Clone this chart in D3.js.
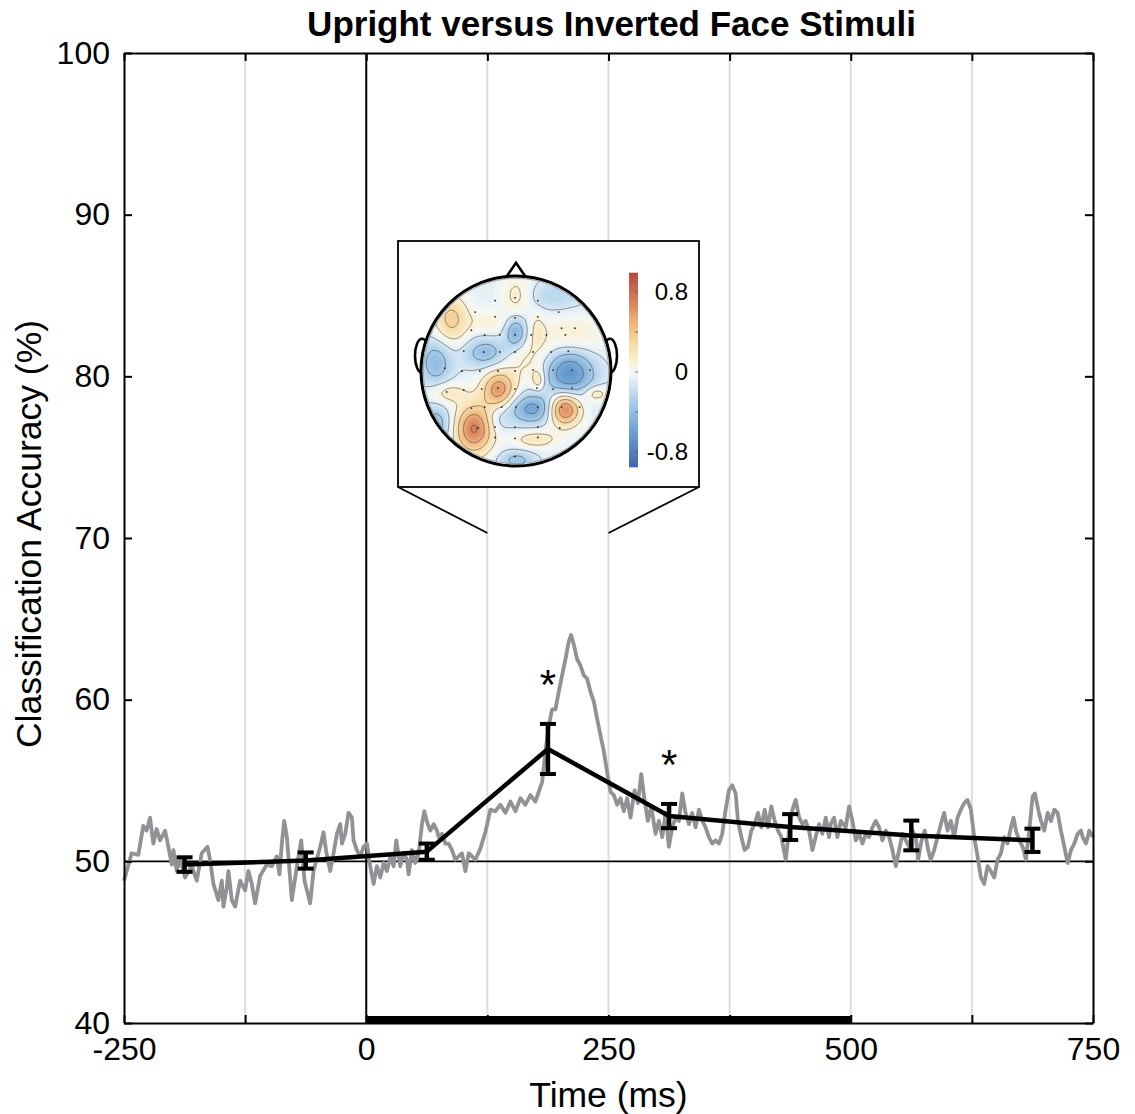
<!DOCTYPE html>
<html>
<head>
<meta charset="utf-8">
<script src="https://cdn.jsdelivr.net/npm/d3@7"></script>
<style>
body { margin: 0; background: #fff; }
text { font-family: "Liberation Sans", Arial, Helvetica, sans-serif; fill: #000; }
</style>
</head>
<body>
<svg id="chart" width="1135" height="1114"></svg>
<script>
// time-resolved classification accuracy (ms, %)
var decodingTrace = [
  [-250,48.8],[-247.2,49.4],[-242.1,50.5],[-235.2,50.4],[-230.1,52.2],[-226.6,51.9],[-223.1,52.7],[-219.7,51.1],
  [-216.3,52.0],[-212.8,51.3],[-207.6,51.9],[-204.2,50.9],[-200.7,49.8],[-199.0,50.7],[-195.6,49.4],[-192.1,50.2],
  [-187.0,49.0],[-180.1,49.7],[-174.9,48.8],[-169.8,50.5],[-163.9,50.9],[-161.2,50.1],[-157.7,48.6],[-152.6,47.6],
  [-149.1,48.8],[-147.4,47.2],[-143.9,48.4],[-142.2,49.4],[-138.8,47.6],[-135.3,47.2],[-130.2,48.8],[-125.0,48.2],
  [-121.6,49.4],[-118.1,48.6],[-114.7,47.4],[-109.5,49.1],[-102.6,49.8],[-97.4,49.7],[-92.3,50.3],[-89.6,49.2],
  [-87.1,51.1],[-84.7,52.5],[-81.9,51.5],[-76.8,47.6],[-71.6,49.7],[-67.1,51.3],[-63.7,48.8],[-57.9,47.4],
  [-54.4,49.4],[-47.5,50.9],[-44.1,51.8],[-41.3,50.6],[-37.2,49.4],[-33.7,50.5],[-30.3,51.7],[-26.9,52.3],
  [-25.1,51.1],[-21.7,51.7],[-18.3,53.0],[-14.8,52.7],[-13.1,51.3],[-9.7,50.7],[-6.2,50.3],[-2.8,50.9],
  [0.7,51.1],[4.1,49.7],[7.6,48.6],[11.0,49.7],[14.5,49.0],[17.9,49.9],[21.3,49.4],[24.8,50.3],
  [28.2,49.7],[31.0,51.3],[35.1,49.7],[38.6,50.5],[42.0,50.1],[43.7,49.2],[47.2,50.7],[50.6,49.9],
  [54.1,50.5],[57.5,52.3],[59.9,53.1],[63.4,52.3],[66.1,51.9],[69.6,52.3],[73.0,51.9],[74.7,51.5],
  [78.2,51.7],[81.6,51.1],[85.0,51.1],[88.5,50.7],[91.9,50.1],[95.4,50.3],[98.8,50.5],[102.3,49.4],
  [105.7,50.5],[109.2,50.3],[112.6,50.1],[117.8,50.8],[122.9,51.8],[128.1,53.2],[133.3,53.1],[138.4,53.5],
  [143.6,53.0],[148.8,53.7],[153.9,53.1],[159.1,53.9],[164.3,53.5],[169.4,54.1],[174.6,53.7],[178.0,54.3],
  [181.5,54.9],[184.9,56.8],[188.4,58.4],[191.8,59.4],[195.2,59.4],[198.7,60.5],[202.1,61.5],[205.6,62.5],
  [209.0,63.6],[211.4,64.0],[214.2,63.4],[217.6,62.5],[221.1,62.1],[224.5,61.5],[227.9,61.3],[231.4,60.5],
  [234.8,59.9],[238.3,58.8],[241.7,57.8],[245.2,56.8],[248.6,55.5],[252.1,54.3],[255.5,54.1],[259.0,53.5],
  [262.4,53.9],[265.8,53.1],[269.3,53.9],[272.7,52.7],[276.9,54.4],[280.3,53.6],[283.8,55.4],[287.2,53.8],
  [290.6,52.5],[294.1,53.4],[298.6,51.7],[302.0,52.5],[305.5,51.5],[308.9,53.0],[312.3,50.9],[315.8,52.1],
  [319.2,52.7],[322.7,52.5],[326.1,54.2],[329.5,53.0],[333.0,52.3],[336.4,53.0],[339.9,52.1],[343.3,53.2],
  [346.8,52.5],[350.2,52.1],[353.6,51.5],[357.1,51.1],[360.5,51.3],[364.0,51.1],[367.4,51.7],[370.9,53.2],
  [374.3,54.4],[377.8,54.7],[381.2,54.2],[383.6,52.5],[387.1,51.5],[390.5,50.7],[393.9,50.9],[397.4,51.9],
  [400.8,52.3],[404.3,53.0],[407.7,52.1],[411.2,53.2],[414.6,52.1],[418.0,53.4],[421.5,52.5],[424.9,51.9],
  [428.4,51.5],[432.9,50.1],[436.3,51.9],[439.8,53.2],[443.2,53.8],[446.7,52.7],[450.1,52.3],[453.5,52.5],
  [457.0,51.9],[460.4,50.7],[463.8,51.5],[467.3,52.3],[470.7,51.7],[474.2,52.7],[477.6,51.5],[479.3,52.3],
  [482.8,52.7],[486.2,51.5],[489.7,52.5],[494.8,52.1],[498.3,53.4],[501.7,52.5],[505.2,51.3],[508.6,51.7],
  [512.1,51.1],[515.5,51.7],[518.9,51.5],[522.4,52.1],[525.8,52.5],[529.3,52.1],[532.7,51.3],[536.2,51.9],
  [539.6,51.5],[543.0,50.7],[546.5,49.7],[549.9,50.7],[553.4,51.7],[556.8,51.3],[560.2,50.9],[563.7,51.9],
  [567.1,51.5],[569.5,50.1],[573.0,51.3],[576.4,51.9],[579.9,50.7],[582.6,50.1],[586.1,50.7],[589.6,51.5],
  [593.0,52.3],[596.4,53.0],[599.9,51.9],[603.3,52.5],[606.7,51.5],[610.2,52.7],[613.6,53.2],[617.1,53.6],
  [620.5,53.8],[624.0,53.2],[627.4,51.5],[630.9,50.3],[634.3,49.0],[637.7,48.6],[641.2,49.7],[644.6,49.4],
  [648.1,49.0],[651.5,50.1],[655.0,50.5],[658.4,51.5],[661.8,51.1],[665.3,52.1],[668.0,52.7],[670.5,51.9],
  [673.9,51.3],[677.4,50.9],[680.8,50.1],[684.2,51.9],[687.7,54.0],[690.1,54.2],[693.5,53.2],[696.3,52.5],
  [699.7,51.9],[703.2,53.0],[706.6,52.5],[710.1,53.2],[713.5,53.0],[716.9,51.9],[720.4,50.9],[723.8,49.9],
  [727.3,50.7],[730.7,51.1],[734.1,51.7],[737.6,51.9],[739.3,51.5],[742.8,51.1],[746.2,51.9],[750,51.5]
];

// 125 ms bins : centre, mean accuracy, s.e.m.
var binMs  = [-187.5, -62.5, 62.5, 187.5, 312.5, 437.5, 562.5, 687.5];
var binAcc = [49.8, 50.05, 50.6, 56.95, 52.8, 52.12, 51.6, 51.3];
var binSem = [0.45, 0.5, 0.5, 1.55, 0.75, 0.8, 0.92, 0.72];
var sigBins = [3, 4];           // bins marked with *
var stimWindow = [0, 500];      // stimulus on screen
var zoomWindow = [125, 250];    // window shown in the topography

var xTicks = [-250, -125, 0, 125, 250, 375, 500, 625, 750];
var xLabels = [-250, 0, 250, 500, 750];
var yTicks = [40, 50, 60, 70, 80, 90, 100];

// topography : gaussian patches [x, y, amplitude, sx, sy] in head radius units
var topoBase = -0.06;
var topoPatches = [
  [-0.45, 0.60, 0.78, 0.14, 0.18],
  [0.50, 0.39, 0.88, 0.12, 0.12],
  [-0.19, 0.19, 0.66, 0.12, 0.14],
  [0.55, 0.01, -0.62, 0.19, 0.19],
  [0.17, 0.39, -0.50, 0.19, 0.11],
  [-0.01, -0.41, -0.45, 0.08, 0.12],
  [-0.33, -0.20, -0.35, 0.16, 0.11],
  [-0.85, -0.10, -0.35, 0.12, 0.18],
  [-0.69, -0.55, 0.42, 0.13, 0.18],
  [0.0, -0.80, 0.22, 0.11, 0.16],
  [0.58, -0.36, 0.22, 0.25, 0.16],
  [0.12, -0.12, 0.20, 0.17, 0.17],
  [0.23, 0.09, 0.30, 0.05, 0.08],
  [0.20, 0.71, 0.25, 0.17, 0.07],
  [-0.73, 0.22, 0.25, 0.14, 0.08],
  [-0.85, 0.55, -0.35, 0.11, 0.13],
  [0.0, 0.93, -0.30, 0.13, 0.07],
  [0.83, 0.23, 0.30, 0.09, 0.06],
  [0.40, -0.80, -0.18, 0.22, 0.11],
  [-0.20, 0.50, -0.15, 0.09, 0.11],
  [-0.30, -0.52, 0.15, 0.13, 0.09],
  [0.22, -0.45, 0.15, 0.06, 0.13]
];
var electrodes = [
  [-0.22,-0.74],[-0.01,-0.77],[0.23,-0.74],[0.45,-0.62],[-0.43,-0.62],[-0.22,-0.57],[-0.01,-0.56],[0.23,-0.57],
  [0.48,-0.45],[0.62,-0.45],[-0.47,-0.43],[-0.33,-0.38],[-0.17,-0.38],[-0.01,-0.38],[0.16,-0.38],[0.32,-0.38],
  [0.52,-0.38],[-0.55,-0.21],[-0.34,-0.20],[-0.17,-0.20],[-0.01,-0.20],[0.18,-0.20],[0.37,-0.20],[0.55,-0.21],
  [-0.75,-0.03],[-0.57,0.0],[-0.38,0.0],[-0.19,0.0],[-0.01,0.0],[0.18,-0.01],[0.39,-0.01],[0.59,-0.01],[0.78,-0.01],
  [-0.73,0.22],[-0.55,0.20],[-0.36,0.19],[-0.19,0.18],[-0.01,0.19],[0.22,0.18],[0.39,0.19],[0.59,0.18],
  [-0.47,0.39],[-0.33,0.38],[-0.15,0.38],[0.0,0.38],[0.23,0.38],[0.48,0.38],[0.67,0.38],
  [-0.40,0.60],[-0.22,0.59],[-0.01,0.59],[0.23,0.59],[0.46,0.60],[-0.22,0.70],[-0.01,0.71],[0.23,0.70],[-0.01,0.90]
];
var cbarStops  = [-1.0, -0.6, -0.3, -0.1, 0.0, 0.1, 0.3, 0.5, 0.7, 1.0];
var cbarColors = ["#3a5fa8", "#6a9fd2", "#a8cdea", "#dbeaf5", "#f4f8f8", "#fbf1d6", "#f7d9a0", "#f0b27c", "#d9805c", "#b4473a"];
var cbarLabels = [0.8, 0, -0.8];
var cbarTicks = [0.8, 0.4, 0, -0.4, -0.8];

var svg = d3.select("#chart");
var pL = 124, pT = 53, pR = 1093, pB = 1023;   // plot box

var x = d3.scaleLinear().domain([-250, 750]).range([pL, pR]);
var y = d3.scaleLinear().domain([40, 100]).range([pB, pT]);

// light vertical grid every 125 ms
svg.append("g").selectAll("line")
  .data(xTicks.filter(function(t) { return t != 0 && t > -250 && t < 750; }))
  .enter().append("line")
  .attr("x1", d => x(d)).attr("x2", d => x(d))
  .attr("y1", pT).attr("y2", pB)
  .style("stroke", "#dcdcdc").style("stroke-width", 2);

// chance level and stimulus onset
svg.append("line").attr("x1", pL).attr("x2", pR).attr("y1", y(50)).attr("y2", y(50))
  .style("stroke", "#000").style("stroke-width", 1.6);
svg.append("line").attr("x1", x(0)).attr("x2", x(0)).attr("y1", pT).attr("y2", pB)
  .style("stroke", "#000").style("stroke-width", 2);

// raw trace
svg.append("path").datum(decodingTrace)
  .attr("d", d3.line().x(d => x(d[0])).y(d => y(d[1])))
  .style("fill", "none").style("stroke", "#919196").style("stroke-width", 3.8)
  .style("stroke-linejoin", "round");

// binned means
var bins = binMs.map(function(t, i) { return {t: t, m: binAcc[i], s: binSem[i], i: i}; });
svg.append("path").datum(bins)
  .attr("d", d3.line().x(d => x(d.t)).y(d => y(d.m)))
  .style("fill", "none").style("stroke", "#000").style("stroke-width", 4.5)
  .style("stroke-linejoin", "round");

var eb = svg.append("g").selectAll("g").data(bins).enter().append("g");
eb.append("line")
  .attr("x1", d => x(d.t)).attr("x2", d => x(d.t))
  .attr("y1", d => y(d.m - d.s)).attr("y2", d => y(d.m + d.s))
  .style("stroke", "#000").style("stroke-width", 4.5);
[-1, 1].forEach(function(sgn) {
  eb.append("line")
    .attr("x1", d => x(d.t) - 8).attr("x2", d => x(d.t) + 8)
    .attr("y1", d => y(d.m + sgn * d.s)).attr("y2", d => y(d.m + sgn * d.s))
    .style("stroke", "#000").style("stroke-width", 4);
});

svg.append("g").selectAll("text")
  .data(bins.filter(d => sigBins.indexOf(d.i) >= 0))
  .enter().append("text")
  .attr("x", d => x(d.t)).attr("y", d => y(d.m + d.s) - 50 + 25)
  .attr("text-anchor", "middle").style("font-size", "42px").text("*");

// stimulus bar on the time axis
svg.append("rect")
  .attr("x", x(stimWindow[0])).attr("width", x(stimWindow[1]) - x(stimWindow[0]))
  .attr("y", pB - 7).attr("height", 7).style("fill", "#000");

// axes with inward ticks
function styleAxis(g) {
  g.selectAll("path").style("stroke", "#000").style("stroke-width", 2);
  g.selectAll("line").style("stroke", "#000").style("stroke-width", 2);
  g.selectAll("text").style("font-size", "32px").style("font-family", "'Liberation Sans', Arial, sans-serif");
}
svg.append("g").attr("transform", "translate(0," + pB + ")")
  .call(d3.axisBottom(x).tickValues(xTicks).tickSize(-8).tickSizeOuter(0).tickPadding(14)
    .tickFormat(d => xLabels.indexOf(d) >= 0 ? d : ""))
  .call(styleAxis);
svg.append("g").attr("transform", "translate(0," + pT + ")")
  .call(d3.axisTop(x).tickValues(xTicks).tickSize(-8).tickSizeOuter(0).tickFormat(""))
  .call(styleAxis);
svg.append("g").attr("transform", "translate(" + pL + ",0)")
  .call(d3.axisLeft(y).tickValues(yTicks).tickSize(-8).tickSizeOuter(0).tickPadding(14))
  .call(styleAxis);
svg.append("g").attr("transform", "translate(" + pR + ",0)")
  .call(d3.axisRight(y).tickValues(yTicks).tickSize(-8).tickSizeOuter(0).tickFormat(""))
  .call(styleAxis);

svg.append("text").attr("x", (pL + pR) / 2 + 3).attr("y", 36)
  .attr("text-anchor", "middle").style("font-size", "35px").style("font-weight", "bold")
  .text("Upright versus Inverted Face Stimuli");
svg.append("text").attr("x", (pL + pR) / 2).attr("y", 1107)
  .attr("text-anchor", "middle").style("font-size", "35.5px").text("Time (ms)");
svg.append("text").attr("transform", "translate(41," + 534 + ") rotate(-90)")
  .attr("text-anchor", "middle").style("font-size", "35.5px").text("Classification Accuracy (%)");

// ---- inset topography ----
var box = {x0: 398, y0: 241, x1: 699, y1: 487};
var zoomY = 533;
svg.append("line").attr("x1", box.x0).attr("y1", box.y1).attr("x2", x(zoomWindow[0])).attr("y2", zoomY)
  .style("stroke", "#000").style("stroke-width", 1.8);
svg.append("line").attr("x1", box.x1).attr("y1", box.y1).attr("x2", x(zoomWindow[1])).attr("y2", zoomY)
  .style("stroke", "#000").style("stroke-width", 1.8);
svg.append("rect").attr("x", box.x0).attr("y", box.y0)
  .attr("width", box.x1 - box.x0).attr("height", box.y1 - box.y0)
  .style("fill", "#fff").style("stroke", "#000").style("stroke-width", 1.8);

var cx = 516, cy = 371, R = 95;
var color = d3.scaleLinear().domain(cbarStops).range(cbarColors).clamp(true);

var topo = svg.append("g");
// ears and nose sit behind the head disk
[-1, 1].forEach(function(sgn) {
  topo.append("ellipse").attr("cx", cx + sgn * (R - 1)).attr("cy", cy - 0.16 * R)
    .attr("rx", 7).attr("ry", 17)
    .style("fill", "#fff").style("stroke", "#000").style("stroke-width", 2.6);
});
topo.append("path")
  .attr("d", "M" + (cx - 0.115 * R) + "," + (cy - 0.97 * R) + "L" + cx + "," + (cy - 1.14 * R) +
             "L" + (cx + 0.115 * R) + "," + (cy - 0.97 * R))
  .style("fill", "#fff").style("stroke", "#000").style("stroke-width", 2.6);
topo.append("circle").attr("cx", cx).attr("cy", cy).attr("r", R).style("fill", "#fff");

var n = 121;
var field = new Array(n * n);
for (var j = 0; j < n; j++) {
  for (var i = 0; i < n; i++) {
    var u = -1 + 2 * i / (n - 1), w = -1 + 2 * j / (n - 1);
    var v = topoBase;
    topoPatches.forEach(function(p) {
      var du = (u - p[0]) / p[3], dw = (w - p[1]) / p[4];
      v += p[2] * Math.exp(-0.5 * (du * du + dw * dw));
    });
    field[j * n + i] = v;
  }
}
var proj = d3.geoIdentity().scale(2 * R / (n - 1)).translate([cx - R, cy - R]);
var gpath = d3.geoPath(proj);

svg.append("clipPath").attr("id", "headClip")
  .append("circle").attr("cx", cx).attr("cy", cy).attr("r", R * 0.975);

var fillLevels = d3.range(-1.2, 1.2, 0.04);
topo.append("g").attr("clip-path", "url(#headClip)").selectAll("path")
  .data(d3.contours().size([n, n]).thresholds(fillLevels)(field))
  .enter().append("path")
  .attr("d", gpath)
  .style("fill", d => color(d.value + 0.02)).style("stroke", "none");

var lineLevels = [-0.7, -0.5, -0.3, -0.1, 0.1, 0.3, 0.5, 0.7];
topo.append("g").attr("clip-path", "url(#headClip)").selectAll("path")
  .data(d3.contours().size([n, n]).thresholds(lineLevels)(field))
  .enter().append("path")
  .attr("d", gpath)
  .style("fill", "none").style("stroke", "#444").style("stroke-width", 0.7).style("stroke-opacity", 0.8);

topo.append("g").selectAll("circle").data(electrodes).enter().append("circle")
  .attr("cx", d => cx + d[0] * R).attr("cy", d => cy + d[1] * R).attr("r", 0.9)
  .style("fill", "#222");

topo.append("circle").attr("cx", cx).attr("cy", cy).attr("r", R * 0.975)
  .style("fill", "none").style("stroke", "#999").style("stroke-width", 0.8);
topo.append("circle").attr("cx", cx).attr("cy", cy).attr("r", R)
  .style("fill", "none").style("stroke", "#000").style("stroke-width", 3);

// colour bar
var cb = d3.scaleLinear().domain([-1, 1]).range([472, 272]);
var cbX = 629, cbW = 9;
var cbTop = 0.99, cbBot = -0.95, cbN = 120;
svg.append("g").selectAll("rect")
  .data(d3.range(cbN).map(k => cbBot + (cbTop - cbBot) * (k + 0.5) / cbN))
  .enter().append("rect")
  .attr("x", cbX).attr("width", cbW)
  .attr("y", d => cb(d + (cbTop - cbBot) / cbN / 2) - 0.3)
  .attr("height", cb(0) - cb((cbTop - cbBot) / cbN) + 0.6)
  .style("fill", d => color(d));
svg.append("g").selectAll("line").data(cbarTicks).enter().append("line")
  .attr("x1", cbX + cbW - 3).attr("x2", cbX + cbW).attr("y1", d => cb(d)).attr("y2", d => cb(d))
  .style("stroke", "#555").style("stroke-width", 0.8);
svg.append("g").selectAll("text").data(cbarLabels).enter().append("text")
  .attr("x", 688).attr("y", d => cb(d)).attr("dy", "0.35em")
  .attr("text-anchor", "end").style("font-size", "24px")
  .text(d => d);
</script>
</body>
</html>
